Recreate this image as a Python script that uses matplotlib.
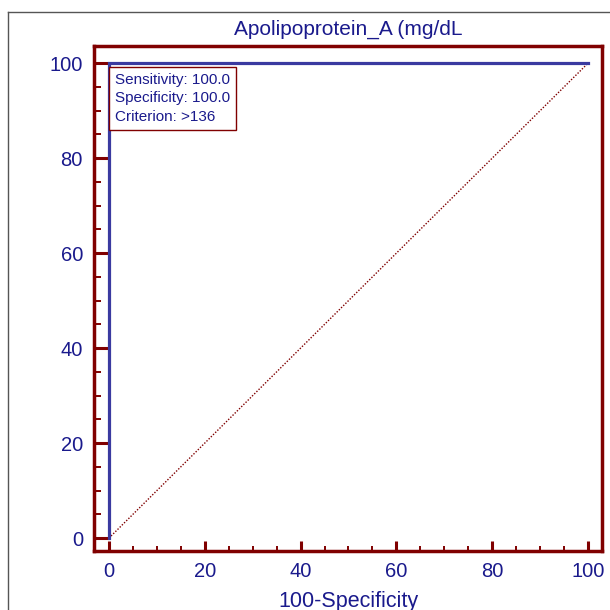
import matplotlib.pyplot as plt
from matplotlib.lines import Line2D
from matplotlib.ticker import MultipleLocator

plt.rcParams['font.family'] = ['Liberation Sans', 'DejaVu Sans']

roc_x = [0, 0, 100]
roc_y = [0, 100, 100]
diag = [0, 100]
title = "Apolipoprotein_A (mg/dL"
stats = ["Sensitivity: 100.0", "Specificity: 100.0", "Criterion: >136"]

maroon = "#800000"
navy = "#1a1a8c"
blue = "#3a3aa0"

fig = plt.figure(figsize=(6.1, 6.1), dpi=100)
ax = fig.add_axes([94/610, 1-551/610, (602-94)/610, (551-46)/610])

ax.plot(diag, diag, color=maroon, lw=1, ls=(0, (1, 1.2)), zorder=3)
ax.plot(roc_x, roc_y, color=blue, lw=2.3, solid_joinstyle='miter', zorder=4)

ax.set_xlim(-3.1, 102.9)
ax.set_ylim(-2.7, 103.6)
ax.xaxis.set_major_locator(MultipleLocator(20))
ax.xaxis.set_minor_locator(MultipleLocator(5))
ax.yaxis.set_major_locator(MultipleLocator(20))
ax.yaxis.set_minor_locator(MultipleLocator(5))
ax.tick_params(which='major', direction='in', length=10, width=2.2, color=maroon,
               labelcolor=navy, labelsize=14.5, pad=8)
ax.tick_params(which='minor', direction='in', length=5, width=1.4, color=maroon)
ax.tick_params(axis='x', which='major', length=7.5)
ax.tick_params(axis='x', which='minor', length=3.8)
for s in ax.spines.values():
    s.set_color(maroon)
    s.set_linewidth(2.5)

ax.set_title(title, color=navy, fontsize=15, pad=8)
ax.set_xlabel("100-Specificity", color=navy, fontsize=15.5, labelpad=7)

ax.text(1.3, 97.9, "\n".join(stats), color=navy, fontsize=11, va='top', ha='left',
        linespacing=1.4, zorder=5,
        bbox=dict(boxstyle='square,pad=0.38', fc='white', ec=maroon, lw=1))

fig.add_artist(Line2D([8/610, 8/610], [0, 1-12/610], transform=fig.transFigure, color='#555555', lw=1))
fig.add_artist(Line2D([8/610, 1], [1-12/610, 1-12/610], transform=fig.transFigure, color='#555555', lw=1))

fig.savefig("out.png", dpi=100)
